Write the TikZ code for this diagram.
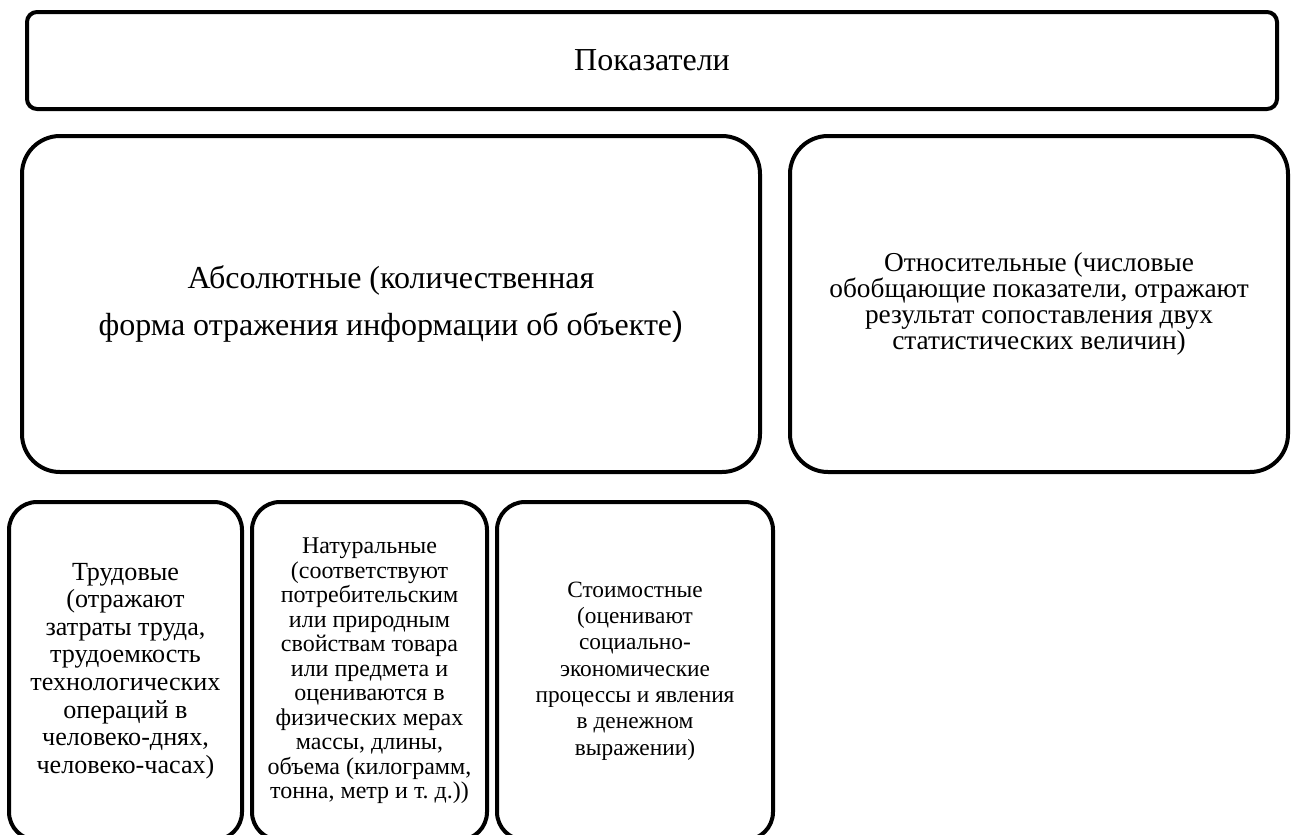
\documentclass[tikz,border=0pt]{standalone}
\usepackage{fontspec}
\setmainfont{Liberation Serif}
\newfontfamily\parenfont{Liberation Sans}
\begin{document}
\begin{tikzpicture}[x=0.75pt,y=-0.75pt,
  box/.style={draw=black, line width=3pt, align=center, inner sep=0pt, fill=white},
  bigr/.style={rounded corners=28.5pt},
  smallr/.style={rounded corners=7.5pt},
  midr/.style={rounded corners=21pt}]
\useasboundingbox (0,0) rectangle (1293,835);
\clip (0,0) rectangle (1293,835);
\fill[white] (0,0) rectangle (1293,835);

\node[box, smallr, minimum width=1250*0.75pt, minimum height=97*0.75pt,
  font=\fontsize{24pt}{28pt}\selectfont] (top) at (652,60.5) {Показатели};

\node[box, bigr, minimum width=738*0.75pt, minimum height=336*0.75pt,
  font=\fontsize{24pt}{35.3pt}\selectfont] (abs) at (391,304)
  {\raisebox{-1.5pt}{Абсолютные (количественная}\\\raisebox{-1.5pt}{форма отражения информации об объекте{\parenfont\fontsize{25pt}{35.3pt}\selectfont )}}};

\node[box, bigr, minimum width=498*0.75pt, minimum height=336*0.75pt,
  font=\fontsize{20.5pt}{19.7pt}\selectfont] (rel) at (1039,304)
  {Относительные (числовые\\обобщающие показатели, отражают\\результат сопоставления двух\\статистических величин)};

\node[box, midr, minimum width=233*0.75pt, minimum height=338*0.75pt,
  font=\fontsize{19.6pt}{20.7pt}\selectfont] (trud) at (125.5,671)
  {Трудовые\\(отражают\\затраты труда,\\трудоемкость\\технологических\\операций в\\человеко-днях,\\человеко-часах)};

\node[box, midr, minimum width=235*0.75pt, minimum height=338*0.75pt,
  font=\fontsize{18pt}{18.4pt}\selectfont] (nat) at (369.5,671)
  {Натуральные\\(соответствуют\\потребительским\\или природным\\свойствам товара\\или предмета и\\оцениваются в\\физических мерах\\массы, длины,\\объема (килограмм,\\тонна, метр и т.~д.))};

\node[box, midr, minimum width=276*0.75pt, minimum height=338*0.75pt,
  font=\fontsize{17.5pt}{19.7pt}\selectfont] (stoim) at (635,671)
  {Стоимостные\\(оценивают\\социально-\\экономические\\процессы и явления\\в денежном\\выражении)};
\end{tikzpicture}
\end{document}
